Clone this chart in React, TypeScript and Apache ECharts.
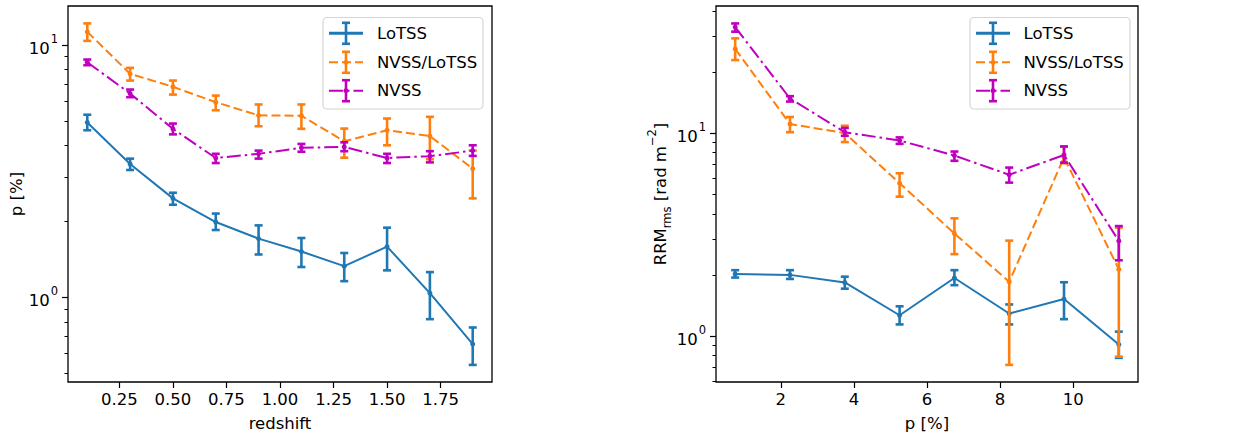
import React, { useEffect, useRef } from "react";
import * as echarts from "echarts";

// ---------- data ----------
const redshift = [0.1, 0.3, 0.5, 0.7, 0.9, 1.1, 1.3, 1.5, 1.7, 1.9];
const lotssP = [4.94, 3.38, 2.47, 1.99, 1.71, 1.52, 1.33, 1.59, 1.04, 0.653];
const lotssPLo = [4.6, 3.2, 2.33, 1.85, 1.48, 1.32, 1.16, 1.28, 0.82, 0.54];
const lotssPHi = [5.3, 3.55, 2.6, 2.15, 1.93, 1.72, 1.5, 1.89, 1.26, 0.76];
const nvssLotssP = [11.3, 7.7, 6.84, 5.94, 5.27, 5.25, 4.16, 4.6, 4.36, 3.24];
const nvssLotssPLo = [10.4, 7.24, 6.37, 5.52, 4.77, 4.66, 3.58, 4.01, 3.53, 2.47];
const nvssLotssPHi = [12.2, 8.13, 7.24, 6.31, 5.82, 5.82, 4.67, 5.12, 5.2, 3.82];
const nvssP = [8.56, 6.43, 4.66, 3.57, 3.71, 3.92, 3.95, 3.57, 3.63, 3.82];
const nvssPLo = [8.33, 6.22, 4.43, 3.41, 3.55, 3.78, 3.8, 3.41, 3.43, 3.64];
const nvssPHi = [8.77, 6.67, 4.89, 3.71, 3.82, 4.06, 4.12, 3.71, 3.8, 4.01];

const pBins = [0.75, 2.25, 3.75, 5.25, 6.75, 8.25, 9.75, 11.25];
const lotssRrm = [2.02, 2.0, 1.835, 1.265, 1.93, 1.29, 1.52, 0.907];
const lotssRrmLo = [1.94, 1.91, 1.71, 1.14, 1.78, 1.14, 1.21, 0.78];
const lotssRrmHi = [2.11, 2.11, 1.96, 1.4, 2.11, 1.43, 1.84, 1.05];
const nvssLotssRrm = [26.0, 11.08, 10.0, 5.66, 3.2, 1.85, 7.59, 2.13];
const nvssLotssRrmLo = [22.9, 10.1, 9.03, 4.86, 2.53, 0.72, 7.1, 0.79];
const nvssLotssRrmHi = [29.3, 12.0, 10.87, 6.34, 3.8, 2.95, 8.59, 3.42];
const nvssRrm = [33.3, 14.8, 10.1, 9.19, 7.75, 6.23, 7.8, 2.94];
const nvssRrmLo = [31.6, 14.3, 9.7, 8.85, 7.3, 5.7, 7.15, 2.36];
const nvssRrmHi = [34.7, 15.2, 10.6, 9.52, 8.11, 6.76, 8.59, 3.48];

const leftXTicks = [0.25, 0.5, 0.75, 1.0, 1.25, 1.5, 1.75];
const rightXTicks = [2, 4, 6, 8, 10];
const majorYTicks = [1, 10];
const minorYTicks = [0.5, 0.6, 0.7, 0.8, 0.9, 2, 3, 4, 5, 6, 7, 8, 9, 20, 30, 40];

const seriesNames = ["LoTSS", "NVSS/LoTSS", "NVSS"];

// ---------- styles ----------
const FONT = "'DejaVu Sans', 'Liberation Sans', sans-serif";
const FS = 16.5;
const BLUE = "#1f77b4";
const ORANGE = "#ff7f0e";
const MAGENTA = "#bf00bf";
const colors = [BLUE, ORANGE, MAGENTA];
const dashes: any[] = ["solid", [9, 4], [14, 4, 2.5, 4]];

const zip = (xs: number[], ys: number[]) => xs.map((x, i) => [x, ys[i]]);
const zip3 = (xs: number[], lo: number[], hi: number[]) => xs.map((x, i) => [x, lo[i], hi[i]]);

function lineSeries(name: string, idx: number, data: number[][], axisIdx: number) {
  return {
    type: "line",
    name,
    xAxisIndex: axisIdx,
    yAxisIndex: axisIdx * 2,
    data,
    symbol: "circle",
    symbolSize: 5,
    showSymbol: true,
    itemStyle: { color: colors[idx] },
    lineStyle: { color: colors[idx], width: 2, type: dashes[idx] },
    z: 3 + idx * 2,
    silent: true,
  };
}

function errSeries(name: string, idx: number, data: number[][], axisIdx: number) {
  const color = colors[idx];
  return {
    type: "custom",
    name: name + "-err",
    xAxisIndex: axisIdx,
    yAxisIndex: axisIdx * 2,
    data,
    encode: { x: 0, y: [1, 2] },
    z: 4 + idx * 2,
    silent: true,
    renderItem: (_p: any, api: any) => {
      const x = api.value(0);
      const a = api.coord([x, api.value(1)]);
      const b = api.coord([x, api.value(2)]);
      const cap = 4;
      const st = { stroke: color, lineWidth: 2.6 };
      return {
        type: "group",
        children: [
          { type: "line", shape: { x1: a[0], y1: a[1], x2: b[0], y2: b[1] }, style: st },
          { type: "line", shape: { x1: a[0] - cap, y1: a[1], x2: a[0] + cap, y2: a[1] }, style: st },
          { type: "line", shape: { x1: b[0] - cap, y1: b[1], x2: b[0] + cap, y2: b[1] }, style: st },
        ],
      };
    },
  };
}

const tickRich = {
  b: { fontSize: FS, fontFamily: FONT, color: "#000", lineHeight: 24, verticalAlign: "bottom" },
  s: { fontSize: 11.5, fontFamily: FONT, color: "#000", lineHeight: 24, verticalAlign: "top", padding: [0, 0, 0, 1] },
};

function yAxes(gridIndex: number, min: number, max: number, name: string, nameGap: number, nameRich: any) {
  return [
    {
      type: "log",
      logBase: 10,
      gridIndex,
      min,
      max,
      position: "left",
      name,
      nameLocation: "middle",
      nameGap,
      nameRotate: 90,
      nameTextStyle: { fontSize: FS, fontFamily: FONT, color: "#000", rich: nameRich },
      axisLine: { show: false },
      splitLine: { show: false },
      axisTick: { show: true, length: 6, lineStyle: { color: "#000", width: 1.2 }, customValues: majorYTicks },
      axisLabel: {
        show: true,
        margin: 10,
        customValues: majorYTicks,
        formatter: (v: number) => `{b|10}{s|${Math.round(Math.log10(v))}}`,
        rich: tickRich,
      },
    },
    {
      type: "log",
      logBase: 10,
      gridIndex,
      min,
      max,
      position: "left",
      axisLine: { show: false },
      splitLine: { show: false },
      axisTick: { show: true, length: 3.5, lineStyle: { color: "#000", width: 1 }, customValues: minorYTicks },
      axisLabel: { show: false },
    },
  ];
}

function xAxis(gridIndex: number, min: number, max: number, ticks: number[], name: string, fmt: (v: number) => string) {
  return {
    type: "value",
    gridIndex,
    min,
    max,
    name,
    nameLocation: "middle",
    nameGap: 33,
    nameTextStyle: { fontSize: FS, fontFamily: FONT, color: "#000" },
    axisLine: { show: false },
    splitLine: { show: false },
    axisTick: { show: true, length: 6, lineStyle: { color: "#000", width: 1.2 }, customValues: ticks },
    axisLabel: {
      show: true,
      margin: 9,
      customValues: ticks,
      formatter: fmt,
      fontSize: FS,
      fontFamily: FONT,
      color: "#000",
    },
  };
}

function legend(x: number, y: number, w: number, h: number, hx0: number, hx1: number, tx: number, rows: number[]) {
  const children: any[] = [
    {
      type: "rect",
      shape: { x, y, width: w, height: h, r: 4 },
      style: { fill: "rgba(255,255,255,0.8)", stroke: "#d5d5d5", lineWidth: 1.2 },
    },
  ];
  seriesNames.forEach((nm, i) => {
    const ry = rows[i];
    const cx = (hx0 + hx1) / 2;
    const st = { stroke: colors[i], lineWidth: 2.6 };
    children.push({
      type: "line",
      shape: { x1: hx0, y1: ry, x2: hx1, y2: ry },
      style: { stroke: colors[i], lineWidth: i === 0 ? 3 : 2, lineDash: i === 0 ? null : dashes[i] },
    });
    children.push({ type: "line", shape: { x1: cx, y1: ry - 10.5, x2: cx, y2: ry + 10.5 }, style: st });
    children.push({ type: "line", shape: { x1: cx - 4, y1: ry - 10.5, x2: cx + 4, y2: ry - 10.5 }, style: st });
    children.push({ type: "line", shape: { x1: cx - 4, y1: ry + 10.5, x2: cx + 4, y2: ry + 10.5 }, style: st });
    if (i > 0) children.push({ type: "circle", shape: { cx, cy: ry, r: 2.5 }, style: { fill: colors[i] } });
    children.push({
      type: "text",
      x: tx,
      y: ry,
      style: { text: nm, fontSize: FS, fontFamily: FONT, fill: "#000", verticalAlign: "middle", align: "left" },
    });
  });
  return { type: "group", children };
}

export default function App() {
  const ref = useRef<HTMLDivElement>(null);
  useEffect(() => {
    document.body.style.margin = "0";
    const chart = echarts.init(ref.current!, null, { renderer: "svg" });
    const option: any = {
      animation: false,
      backgroundColor: "#fff",
      grid: [
        { left: 68, top: 6, width: 424, height: 376, show: true, borderColor: "#000", borderWidth: 1.3, backgroundColor: "transparent" },
        { left: 716, top: 6, width: 422, height: 376, show: true, borderColor: "#000", borderWidth: 1.3, backgroundColor: "transparent" },
      ],
      xAxis: [
        xAxis(0, 0.01, 1.99, leftXTicks, "redshift", (v) => v.toFixed(2)),
        xAxis(1, 0.225, 11.775, rightXTicks, "p [%]", (v) => String(v)),
      ],
      yAxis: [
        ...yAxes(0, 0.462, 14.3, "p [%]", 42, {}),
        ...yAxes(1, 0.593, 42.3, "RRM{sub|rms} [rad m{sup|−2}]", 43, {
          sub: { fontSize: 11.5, fontFamily: FONT, color: "#000", verticalAlign: "bottom", lineHeight: 14, padding: [0, 0, -4, 0] },
          sup: { fontSize: 11.5, fontFamily: FONT, color: "#000", verticalAlign: "top", lineHeight: 14, padding: [-6, 0, 0, 0] },
        }),
      ],
      series: [
        lineSeries("LoTSS", 0, zip(redshift, lotssP), 0),
        errSeries("LoTSS", 0, zip3(redshift, lotssPLo, lotssPHi), 0),
        lineSeries("NVSS/LoTSS", 1, zip(redshift, nvssLotssP), 0),
        errSeries("NVSS/LoTSS", 1, zip3(redshift, nvssLotssPLo, nvssLotssPHi), 0),
        lineSeries("NVSS", 2, zip(redshift, nvssP), 0),
        errSeries("NVSS", 2, zip3(redshift, nvssPLo, nvssPHi), 0),
        lineSeries("LoTSS", 0, zip(pBins, lotssRrm), 1),
        errSeries("LoTSS", 0, zip3(pBins, lotssRrmLo, lotssRrmHi), 1),
        lineSeries("NVSS/LoTSS", 1, zip(pBins, nvssLotssRrm), 1),
        errSeries("NVSS/LoTSS", 1, zip3(pBins, nvssLotssRrmLo, nvssLotssRrmHi), 1),
        lineSeries("NVSS", 2, zip(pBins, nvssRrm), 1),
        errSeries("NVSS", 2, zip3(pBins, nvssRrmLo, nvssRrmHi), 1),
      ],
      graphic: [
        legend(323, 17.5, 160, 91.5, 329, 363, 377, [33.3, 62.3, 90.7]),
        legend(970, 17.5, 160, 91.5, 976, 1010, 1023.5, [33.3, 62.3, 90.7]),
      ],
    };
    chart.setOption(option);
    return () => chart.dispose();
  }, []);
  return <div ref={ref} style={{ position: "absolute", left: 0, top: 0, width: 1242, height: 439 }} />;
}
